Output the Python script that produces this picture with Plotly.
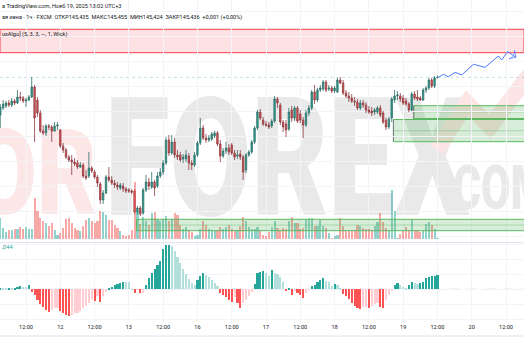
import plotly.graph_objects as go

# ---------------- data (hourly candles, hour index 0 = 11 Nov 12:00) ----------------
hours = list(range(-9, 145))

open_ = [145.06, 145.13, 145.15, 145.18, 145.16, 145.20, 145.18, 145.24, 145.23,
         145.20, 145.21, 145.24, 145.34, 145.21, 145.08, 144.90, 144.88, 144.95, 144.94,
         144.90, 144.95, 144.91, 144.75, 144.71, 144.64, 144.61, 144.59, 144.58, 144.54,
         144.56, 144.45, 144.45, 144.53, 144.49, 144.44, 144.37, 144.21, 144.28, 144.44,
         144.41, 144.38, 144.36, 144.33, 144.35, 144.32, 144.31, 144.30, 144.30, 144.09,
         144.13, 144.08, 144.31, 144.39, 144.34, 144.39, 144.35, 144.45, 144.49, 144.58,
         144.81, 144.68, 144.79, 144.66, 144.66, 144.62, 144.62, 144.65, 144.58, 144.56,
         144.66, 144.78, 144.93, 144.83, 144.81, 144.82, 144.85, 144.88, 144.77, 144.65,
         144.70, 144.73, 144.76, 144.68, 144.65, 144.67, 144.64, 144.51, 144.66, 144.69,
         144.79, 144.93, 145.09, 145.01, 144.97, 144.96, 144.95, 145.00, 145.22, 145.16,
         144.99, 144.97, 144.92, 145.11, 145.03, 145.13, 145.07, 145.01, 144.96, 145.08,
         145.13, 145.29, 145.21, 145.31, 145.32, 145.39, 145.32, 145.33, 145.30, 145.29,
         145.41, 145.38, 145.28, 145.25, 145.23, 145.20, 145.19, 145.13, 145.18, 145.16,
         145.11, 145.10, 145.09, 145.09, 145.13, 145.08, 145.01, 144.94, 145.03, 145.21,
         145.25, 145.25, 145.23, 145.20, 145.17, 145.11, 145.27, 145.24, 145.23, 145.21,
         145.31, 145.33, 145.41, 145.35, 145.435]
high = [145.17, 145.21, 145.20, 145.21, 145.23, 145.22, 145.31, 145.29, 145.25,
        145.23, 145.26, 145.44, 145.36, 145.24, 145.11, 144.96, 144.97, 144.97, 144.96,
        144.99, 144.99, 144.92, 144.78, 144.73, 144.66, 144.66, 144.63, 144.61, 144.59,
        144.58, 144.51, 144.69, 144.55, 144.51, 144.46, 144.39, 144.31, 144.46, 144.54,
        144.45, 144.41, 144.39, 144.38, 144.38, 144.34, 144.33, 144.32, 144.32, 144.15,
        144.15, 144.33, 144.46, 144.43, 144.49, 144.41, 144.49, 144.53, 144.61, 144.84,
        144.86, 144.86, 144.83, 144.71, 144.69, 144.67, 144.71, 144.68, 144.61, 144.69,
        144.80, 145.03, 144.96, 144.87, 144.86, 144.89, 144.90, 144.90, 144.81, 144.73,
        144.79, 144.77, 144.78, 144.71, 144.71, 144.71, 144.66, 144.68, 144.71, 144.81,
        144.95, 145.11, 145.12, 145.04, 145.00, 144.99, 145.02, 145.25, 145.24, 145.18,
        145.01, 145.01, 145.13, 145.15, 145.15, 145.15, 145.11, 145.04, 145.11, 145.16,
        145.31, 145.36, 145.33, 145.36, 145.41, 145.41, 145.36, 145.35, 145.35, 145.43,
        145.44, 145.41, 145.31, 145.29, 145.27, 145.24, 145.22, 145.21, 145.21, 145.19,
        145.15, 145.14, 145.13, 145.15, 145.16, 145.10, 145.03, 145.04, 145.24, 145.31,
        145.30, 145.28, 145.26, 145.23, 145.19, 145.29, 145.30, 145.31, 145.25, 145.33,
        145.35, 145.43, 145.43, 145.45, 145.455]
low = [144.93, 145.11, 145.13, 145.14, 145.14, 145.16, 145.17, 145.20, 145.18,
       145.14, 145.20, 145.23, 144.79, 145.04, 144.88, 144.86, 144.85, 144.91, 144.79,
       144.89, 144.91, 144.73, 144.68, 144.62, 144.59, 144.46, 144.55, 144.52, 144.53,
       144.43, 144.41, 144.43, 144.48, 144.42, 144.34, 144.17, 144.17, 144.27, 144.39,
       144.36, 144.33, 144.31, 144.31, 144.29, 144.28, 144.28, 144.27, 144.07, 144.06,
       144.05, 144.06, 144.29, 144.31, 144.32, 144.25, 144.33, 144.43, 144.46, 144.56,
       144.65, 144.66, 144.63, 144.61, 144.59, 144.58, 144.59, 144.51, 144.51, 144.54,
       144.64, 144.76, 144.81, 144.78, 144.79, 144.80, 144.83, 144.75, 144.59, 144.63,
       144.67, 144.66, 144.66, 144.61, 144.62, 144.61, 144.41, 144.48, 144.64, 144.67,
       144.77, 144.91, 145.01, 144.95, 144.94, 144.92, 144.93, 144.98, 145.13, 144.96,
       144.89, 144.84, 144.90, 144.99, 145.00, 144.98, 144.98, 144.83, 144.94, 145.05,
       145.11, 145.17, 145.19, 145.29, 145.30, 145.29, 145.30, 145.28, 145.28, 145.28,
       145.37, 145.26, 145.23, 145.19, 145.18, 145.15, 145.11, 145.11, 145.13, 145.08,
       145.07, 145.05, 145.06, 145.07, 145.04, 144.97, 144.91, 144.92, 144.99, 145.18,
       145.21, 145.19, 145.16, 145.15, 145.09, 145.10, 145.21, 145.20, 145.20, 145.20,
       145.28, 145.31, 145.33, 145.33, 145.424]
close = [145.14, 145.17, 145.18, 145.16, 145.20, 145.18, 145.24, 145.23, 145.20,
         145.21, 145.24, 145.34, 145.03, 145.08, 144.90, 144.88, 144.95, 144.94, 144.90,
         144.95, 144.96, 144.75, 144.71, 144.64, 144.61, 144.59, 144.57, 144.54, 144.56,
         144.45, 144.43, 144.53, 144.50, 144.44, 144.38, 144.21, 144.28, 144.44, 144.41,
         144.38, 144.36, 144.34, 144.36, 144.32, 144.30, 144.30, 144.29, 144.09, 144.13,
         144.07, 144.31, 144.39, 144.35, 144.39, 144.33, 144.45, 144.49, 144.58, 144.81,
         144.68, 144.79, 144.66, 144.64, 144.61, 144.64, 144.66, 144.58, 144.56, 144.66,
         144.78, 144.93, 144.83, 144.81, 144.83, 144.87, 144.88, 144.77, 144.65, 144.70,
         144.73, 144.69, 144.68, 144.64, 144.66, 144.64, 144.49, 144.66, 144.69, 144.79,
         144.93, 145.09, 145.03, 144.97, 144.96, 144.94, 145.00, 145.22, 145.18, 144.99,
         144.94, 144.91, 145.09, 145.03, 145.13, 145.00, 145.01, 144.96, 145.08, 145.13,
         145.29, 145.21, 145.31, 145.33, 145.39, 145.31, 145.33, 145.30, 145.33, 145.41,
         145.38, 145.28, 145.25, 145.23, 145.20, 145.19, 145.13, 145.18, 145.16, 145.11,
         145.09, 145.08, 145.11, 145.13, 145.06, 144.99, 144.94, 145.02, 145.22, 145.25,
         145.26, 145.22, 145.18, 145.17, 145.11, 145.27, 145.23, 145.22, 145.21, 145.31,
         145.33, 145.41, 145.35, 145.43, 145.436]

volume = [21, 11, 7, 9, 9, 10, 10, 12, 10, 12, 10, 10, 41, 28, 21, 18, 16, 13, 16, 9,
          4, 6, 11, 20, 21, 16, 11, 9, 8, 13, 19, 21, 18, 16, 18, 28, 27, 24, 19, 19,
          14, 11, 8, 4, 3, 4, 9, 57, 28, 15, 22, 18, 14, 26, 27, 20, 18, 20, 23, 18,
          20, 26, 24, 14, 10, 12, 9, 7, 3, 4, 10, 18, 14, 10, 9, 8, 9, 12, 10, 12,
          14, 10, 8, 9, 13, 22, 18, 12, 10, 10, 12, 8, 4, 3, 7, 12, 18, 11, 9, 11,
          10, 18, 22, 16, 16, 10, 11, 19, 21, 21, 13, 13, 19, 13, 11, 6, 1, 3, 4, 21,
          13, 8, 8, 8, 9, 14, 13, 11, 10, 10, 9, 13, 17, 26, 17, 11, 8, 49, 28, 1,
          5, 8, 12, 9, 19, 9, 8, 7, 8, 15, 17, 14, 10, 1]

osc = [0.001, 0.001, 0.0007, 0.001, 0.001, 0.0015, 0.002, 0.003, 0.0025,
       0.002, 0.0043, -0.003, -0.006, -0.0107, -0.015, -0.018, -0.021, -0.023, -0.021,
       -0.019, -0.0185, -0.022, -0.024, -0.026, -0.027, -0.026, -0.024, -0.0235, -0.022,
       -0.019, -0.017, -0.014, -0.011, -0.012, -0.007, -0.013, -0.007, -0.003, 0.0005,
       0.002, 0.004, 0.005, 0.006, 0.0073, 0.0072, 0.007, 0.0003, -0.004, -0.0005,
       -0.004, -0.004, 0.004, 0.011, 0.016, 0.020, 0.024, 0.028, 0.040, 0.044,
       0.0445, 0.043, 0.038, 0.032, 0.026, 0.020, 0.015, 0.010, 0.006, 0.0045,
       0.009, 0.013, 0.016, 0.014, 0.012, 0.009, 0.006, 0.003, -0.004, -0.006,
       -0.008, -0.011, -0.013, -0.008, -0.014, -0.019, -0.014, -0.011, -0.007, -0.003,
       0.005, 0.016, 0.0175, 0.018, 0.016, 0.013, 0.0193, 0.0167, 0.015, 0.012,
       0.0077, -0.001, 0.0007, -0.006, -0.002, -0.0033, -0.0056, -0.009, -0.004, -0.0005,
       0.0033, 0.0043, 0.0077, 0.0097, 0.011, 0.0087, 0.0073, 0.003, 0.0053, 0.0047,
       0.001, -0.005, -0.007, -0.010, -0.014, -0.0167, -0.019, -0.0195, -0.018, -0.0175,
       -0.019, -0.0167, -0.015, -0.0133, -0.018, -0.0185, -0.011, -0.006, -0.001, 0.0043,
       0.006, 0.0043, 0.002, 0.001, 0.0043, 0.007, 0.006, 0.0053, 0.006, 0.0077,
       0.011, 0.012, 0.0133, 0.0135, 0.014]

tick_hours = [0, 12, 24, 36, 48, 60, 72, 84, 96, 108, 120, 132, 144, 156, 168]
tick_labels = ["12:00", "12", "12:00", "13", "12:00", "16", "12:00", "17",
               "12:00", "18", "12:00", "19", "12:00", "20", "12:00"]

proj_hours = [144.3, 146.1, 147.8, 150.2, 152.5, 156.6, 160.7, 165.3, 166.5, 168.5, 171.5]
proj_price = [145.437, 145.467, 145.443, 145.487, 145.460, 145.567, 145.537,
              145.650, 145.610, 145.693, 145.637]

supply_zone = [145.683, 145.917]            # red zone (bottom, top)
demand_a = [145.025, 145.09, 145.153]       # bottom, mid, top
demand_a_start = 135.7
demand_b = [144.793, 144.903, 145.015]
demand_b_start = 128.6
vol_zone = [8.6, 14.3, 20.0]
vol_zone_start = 38.7
last_price = 145.436

# ---------------- colours ----------------
UP, DOWN = "#26a69a", "#ef5350"
vol_colors = ["rgba(38,166,154,0.5)" if c >= o else "rgba(239,83,80,0.5)"
              for o, c in zip(open_, close)]
hist_colors = []
prev = 0.0
for v in osc:
    if v >= 0:
        hist_colors.append("#26a69a" if v > prev else "#b2dfdb")
    else:
        hist_colors.append("#ff5252" if v < prev else "#ffcdd2")
    prev = v

fig = go.Figure()

fig.add_trace(go.Candlestick(
    x=hours, open=open_, high=high, low=low, close=close,
    xaxis="x", yaxis="y",
    increasing=dict(fillcolor=UP, line=dict(color="#2f6d66", width=0.8)),
    decreasing=dict(fillcolor=DOWN, line=dict(color="#8a3a40", width=0.8)),
    whiskerwidth=0, showlegend=False, hoverinfo="skip"))

fig.add_trace(go.Scatter(
    x=proj_hours, y=proj_price, mode="lines+markers", xaxis="x", yaxis="y",
    line=dict(color="#4a7bff", width=1),
    marker=dict(size=[0] * (len(proj_hours) - 1) + [7], symbol="arrow-wide-open",
                angleref="previous", color="#4a7bff", line=dict(width=1, color="#4a7bff")),
    showlegend=False, hoverinfo="skip"))

fig.add_trace(go.Bar(
    x=hours, y=volume, xaxis="x", yaxis="y3", marker=dict(color=vol_colors, line=dict(width=0)),
    width=0.75, showlegend=False, hoverinfo="skip"))

fig.add_trace(go.Bar(
    x=hours, y=osc, xaxis="x2", yaxis="y2", marker=dict(color=hist_colors, line=dict(width=0)),
    width=0.75, showlegend=False, hoverinfo="skip"))

GRID = "#f2f4f9"
W, H = 524, 350


def px(xp):
    return xp / W


def py(yp):
    return 1 - yp / H


shapes = []
# watermark (drawn below everything)
wm_font = dict(family="Roboto, Arial, sans-serif", weight=900)
shapes.append(dict(type="rect", xref="paper", yref="paper", layer="below",
                   x0=px(-27), x1=px(97), y0=py(207), y1=py(123),
                   line=dict(width=0), fillcolor="rgba(0,0,0,0)",
                   label=dict(text="OR", textposition="middle center",
                              font=dict(size=118, color="#fce6e6", **wm_font))))
shapes.append(dict(type="rect", xref="paper", yref="paper", layer="below",
                   x0=px(105), x1=px(470), y0=py(205), y1=py(88),
                   line=dict(width=0), fillcolor="rgba(0,0,0,0)",
                   label=dict(text="FOREX", textposition="middle center",
                              font=dict(size=165, color="#e9e9e9", **wm_font))))
shapes.append(dict(type="rect", xref="paper", yref="paper", layer="below",
                   x0=px(440), x1=px(548), y0=py(206), y1=py(162),
                   line=dict(width=0), fillcolor="rgba(0,0,0,0)",
                   label=dict(text=".COM", textposition="middle center",
                              font=dict(size=62, color="#e9e9e9", **wm_font))))
logo = [(437, 150), (467, 103), (490, 127), (523, 83), (540, 62)]
path = "M " + " L ".join(f"{px(a):.4f},{py(b):.4f}" for a, b in logo)
shapes.append(dict(type="path", xref="paper", yref="paper", layer="below", path=path,
                   line=dict(color="#fde5e5", width=16)))

# supply zone
shapes.append(dict(type="rect", xref="paper", yref="y", layer="below", x0=0, x1=1,
                   y0=supply_zone[0], y1=supply_zone[1],
                   fillcolor="rgba(242,54,69,0.15)", line=dict(color="#f7626d", width=1.3)))
# demand zones
for start, (b, m, t) in [(demand_b_start, demand_b), (demand_a_start, demand_a)]:
    shapes.append(dict(type="rect", xref="x", yref="y", layer="below", x0=start, x1=200,
                       y0=b, y1=t, fillcolor="rgba(76,175,80,0.22)",
                       line=dict(color="#5cb85f", width=1)))
    shapes.append(dict(type="line", xref="x", yref="y", layer="below", x0=start, x1=200,
                       y0=m, y1=m, line=dict(color="rgba(76,175,80,0.45)", width=0.8)))
    shapes.append(dict(type="line", xref="x", yref="y", layer="below", x0=start, x1=start,
                       y0=b, y1=t, line=dict(color="#7a7d85", width=1)))
# volume zone
b, m, t = vol_zone
shapes.append(dict(type="rect", xref="x", yref="y3", layer="above", x0=vol_zone_start, x1=200,
                   y0=b, y1=t, fillcolor="rgba(76,175,80,0.22)",
                   line=dict(color="#5cb85f", width=1)))
shapes.append(dict(type="line", xref="x", yref="y3", layer="above", x0=vol_zone_start, x1=200,
                   y0=m, y1=m, line=dict(color="rgba(76,175,80,0.45)", width=0.8)))
# last price line
shapes.append(dict(type="line", xref="paper", yref="y", layer="below", x0=0, x1=1,
                   y0=last_price, y1=last_price,
                   line=dict(color="rgba(38,166,154,0.3)", width=1, dash="dot")))
# oscillator zero line
shapes.append(dict(type="line", xref="paper", yref="y2", layer="below", x0=0, x1=1,
                   y0=0, y1=0, line=dict(color="#b2b5be", width=0.8, dash="dash")))
# pane separators
shapes.append(dict(type="line", xref="paper", yref="paper", x0=0, x1=1,
                   y0=py(242.6), y1=py(242.6), line=dict(color="#e0e3eb", width=1)))
shapes.append(dict(type="line", xref="paper", yref="paper", x0=0, x1=1,
                   y0=py(336), y1=py(336), line=dict(color="#e0e3eb", width=1)))

TXT = "#131722"
hfont = dict(family="Roboto, Arial, sans-serif", size=5.6, color=TXT)
annotations = [
    dict(text="а TradingView.com, Нояб 19, 2025 13:02 UTC+3", x=0, y=py(6)),
    dict(text="ая иена · 1ч · FXCM\u00a0\u00a0ОТКР145,435\u00a0\u00a0МАКС145,455\u00a0\u00a0"
              "МИН145,424\u00a0\u00a0ЗАКР145,436\u00a0\u00a0+0,001 (+0,00%)", x=0, y=py(17)),
    dict(text="uxAlgo] (5, 3, 3, —, 1, Wick)", x=0, y=py(34.5)),
    dict(text=",044", x=0, y=py(246.5), font=dict(family="Roboto, Arial, sans-serif",
                                               size=5.6, color="#26a69a")),
]
for a in annotations:
    a.update(xref="paper", yref="paper", xanchor="left", yanchor="middle", showarrow=False)
    a.setdefault("font", hfont)

fig.update_layout(
    width=W, height=H, margin=dict(l=0, r=0, t=0, b=0),
    paper_bgcolor="white", plot_bgcolor="rgba(0,0,0,0)",
    boxgap=0.3, boxgroupgap=0.3, bargap=0,
    xaxis=dict(domain=[0, 1], anchor="y", range=[-9.1, 174.3], tickvals=tick_hours,
               showticklabels=False, showgrid=True, gridcolor=GRID, gridwidth=1,
               zeroline=False, rangeslider=dict(visible=False), fixedrange=True),
    xaxis2=dict(domain=[0, 1], anchor="y2", matches="x", range=[-9.1, 174.3],
                tickvals=tick_hours, ticktext=tick_labels, ticks="", ticklen=0,
                tickfont=dict(family="Roboto, Arial, sans-serif", size=5.6, color=TXT),
                showgrid=True, gridcolor=GRID, zeroline=False),
    yaxis=dict(domain=[py(242), 1], range=[143.79, 146.21], showticklabels=False,
               showgrid=True, gridcolor=GRID, tick0=146.093, dtick=0.25, zeroline=False),
    yaxis3=dict(overlaying="y", anchor="x", range=[-2.7, 239.3], visible=False,
                showgrid=False),
    yaxis2=dict(domain=[py(322), py(243)], range=[-0.0327, 0.0463], showticklabels=False,
                showgrid=True, gridcolor=GRID, tick0=0, dtick=0.015, zeroline=False),
    shapes=shapes, annotations=annotations,
)

post = """
var gd = document.getElementById('{plot_id}');
var targets = {"OR": 124, "FOREX": 365, ".COM": 108};
gd.querySelectorAll('text').forEach(function(t){
  var w = targets[t.textContent];
  if (w) {
    var bb = t.getBBox();
    if (bb.width > 0) {
      t.style.transformBox = 'fill-box';
      t.style.transformOrigin = 'center';
      t.style.transform = 'scaleX(' + (w / bb.width) + ')';
    }
  }
});
"""

fig.write_html("out.html", post_script=post, config={"displayModeBar": False})
